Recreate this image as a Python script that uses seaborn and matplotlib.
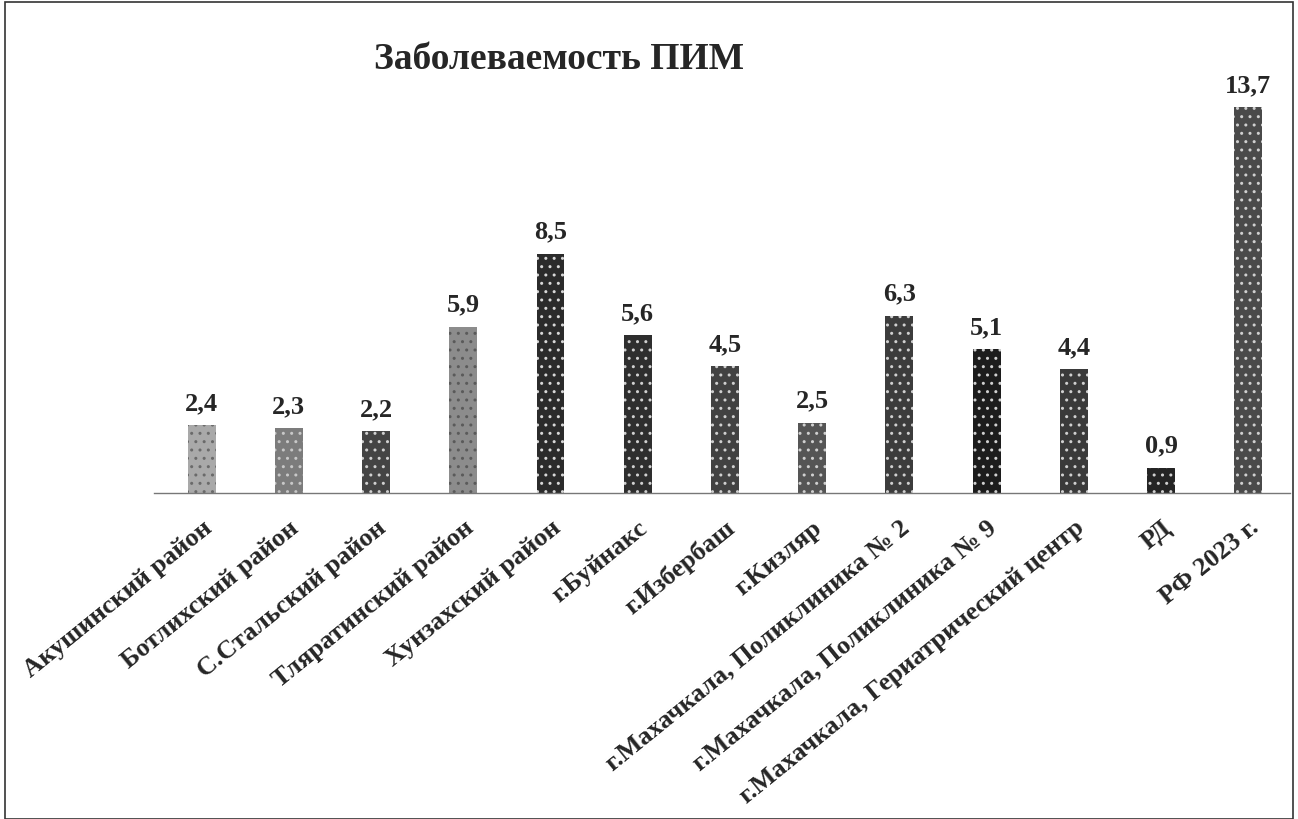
import matplotlib
matplotlib.use("Agg")
import matplotlib.pyplot as plt
import seaborn as sns
import pandas as pd
from matplotlib.patches import Rectangle

# данные с диаграммы
categories = [
    "Акушинский район",
    "Ботлихский район",
    "С.Стальский район",
    "Тляратинский район",
    "Хунзахский район",
    "г.Буйнакс",
    "г.Избербаш",
    "г.Кизляр",
    "г.Махачкала, Поликлиника № 2",
    "г.Махачкала, Поликлиника № 9",
    "г.Махачкала, Гериатрический центр",
    "РД",
    "РФ 2023 г.",
]
values = [2.4, 2.3, 2.2, 5.9, 8.5, 5.6, 4.5, 2.5, 6.3, 5.1, 4.4, 0.9, 13.7]
bar_colors = ["#a9a9a9", "#7c7c7c", "#444444", "#8c8c8c", "#2b2b2b", "#2e2e2e",
              "#424242", "#555555", "#3c3c3c", "#1c1c1c", "#3a3a3a", "#242424",
              "#4a4a4a"]
speckle = ["#6a6a6a", "#c8c8c8", "#d0d0d0", "#5a5a5a", "#d8d8d8", "#d0d0d0",
           "#d0d0d0", "#d0d0d0", "#d0d0d0", "#d0d0d0", "#d0d0d0", "#d0d0d0",
           "#d0d0d0"]
title = "Заболеваемость ПИМ"

df = pd.DataFrame({"cat": categories, "val": values})

sns.set_style("white")
plt.rcParams["font.family"] = ["Liberation Serif", "DejaVu Serif"]
plt.rcParams["font.weight"] = "bold"
plt.rcParams["hatch.linewidth"] = 1.0

fig = plt.figure(figsize=(12.98, 8.2), dpi=100)
ax = fig.add_axes([0.119, 0.3976, 0.875, 0.498])

sns.barplot(data=df, x="cat", y="val", hue="cat", palette=bar_colors,
            legend=False, width=0.32, ax=ax, saturation=1)

for p, c in zip(ax.patches, speckle):
    p.set_hatch("..")
    p.set_edgecolor(c)
    p.set_linewidth(0)

for cont in ax.containers:
    ax.bar_label(cont, labels=[f"{v:.1f}".replace(".", ",") for v in cont.datavalues],
                 padding=8, fontsize=19, fontweight="bold")

ax.set_ylim(0, 14.5)
ax.set_xlim(-0.54, 12.48)
ax.set_xlabel("")
ax.set_ylabel("")
ax.set_yticks([])
ax.tick_params(axis="x", length=0, pad=16)
ax.set_xticks(range(len(categories)))
ax.set_xticklabels(categories, rotation=39, ha="right", rotation_mode="anchor",
                   fontsize=19, fontweight="bold")
for s in ["left", "right", "top"]:
    ax.spines[s].set_visible(False)
ax.spines["bottom"].set_color("#777777")
ax.spines["bottom"].set_linewidth(1.0)

fig.text(0.431, 0.928, title, fontsize=27, fontweight="bold", ha="center", va="center")

# рамка вокруг рисунка
fig.patches.append(Rectangle((0.004, 0.0), 0.992, 0.996, transform=fig.transFigure,
                             fill=False, edgecolor="#333333", linewidth=1.2))

fig.savefig("out.png", dpi=100)
